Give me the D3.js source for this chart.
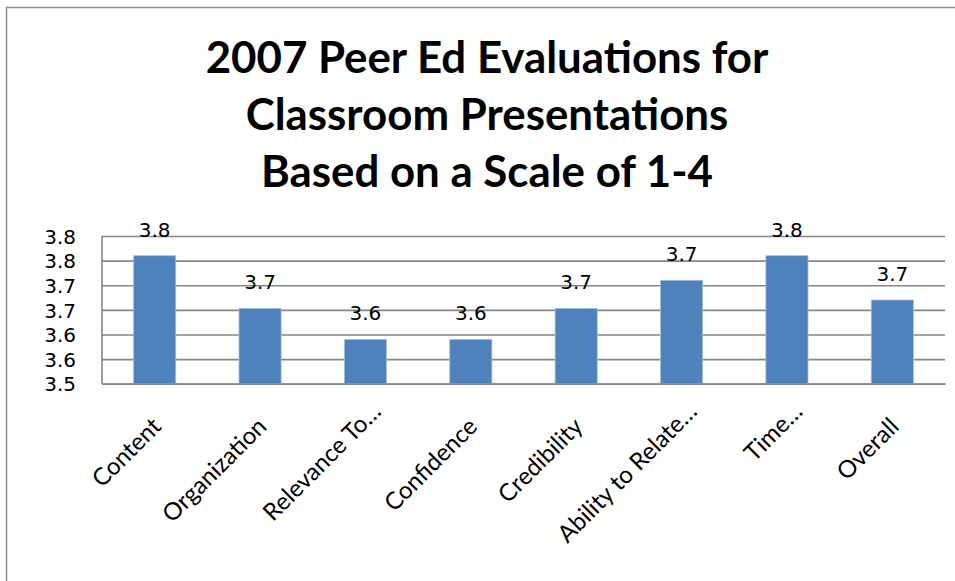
<!DOCTYPE html>
<html>
<head>
<meta charset="utf-8">
<script src="https://cdn.jsdelivr.net/npm/d3@7"></script>
<style>
  html, body { margin: 0; padding: 0; background: #fff; }
  svg { display: block; }
</style>
</head>
<body>
<svg id="chart" width="955" height="581"></svg>
<script>
const titleLines = ["2007 Peer Ed Evaluations for", "Classroom Presentations", "Based on a Scale of 1-4"];
const categories = ["Content", "Organization", "Relevance To…", "Confidence", "Credibility", "Ability to Relate…", "Time…", "Overall"];
const values = [3.76, 3.653, 3.59, 3.59, 3.653, 3.71, 3.76, 3.67];
const tickValues = [3.50, 3.55, 3.60, 3.65, 3.70, 3.75, 3.80];
const tickLabels = ["3.5", "3.6", "3.6", "3.7", "3.7", "3.8", "3.8"];

const svg = d3.select("#chart");
const W = 955, H = 581;
const plot = { left: 102, right: 945, top: 236, bottom: 383.7 };
const grey = "#868686";

// outer frame
svg.append("rect")
  .attr("x", 6.5).attr("y", 7.5)
  .attr("width", W + 20).attr("height", H + 20)
  .attr("fill", "#fff").attr("stroke", "#8c8c8c").attr("stroke-width", 1.5);

// title
const titleFont = "Lato, 'Open Sans', sans-serif";
const title = svg.append("g");
const baselines = [73, 130, 187];
const tLines = title.selectAll("text").data(titleLines).join("text")
  .attr("x", 487).attr("y", (d, i) => baselines[i])
  .attr("text-anchor", "middle")
  .attr("font-family", titleFont).attr("font-weight", 700)
  .attr("font-size", 40).attr("fill", "#000")
  .text(d => d);
const w0 = tLines.nodes()[0].getComputedTextLength();
tLines.attr("font-size", 40 * 563 / w0);

const x = d3.scaleBand().domain(categories).range([plot.left, plot.right])
  .paddingInner(0.6).paddingOuter(0.3);
const y = d3.scaleLinear().domain([3.5, 3.8]).range([plot.bottom, plot.top]);

// gridlines
const yGrid = d3.axisLeft(y).tickValues(tickValues).tickSize(-(plot.right - plot.left)).tickFormat("");
const gGrid = svg.append("g").attr("transform", `translate(${plot.left},0)`).call(yGrid);
gGrid.select(".domain").remove();
gGrid.selectAll(".tick line").attr("stroke", grey).attr("stroke-width", 1.6);

const numFont = "'DejaVu Sans', Verdana, sans-serif";

// y axis labels
const yAxis = d3.axisLeft(y).tickValues(tickValues).tickSize(0).tickPadding(0)
  .tickFormat((d, i) => tickLabels[i]);
const gY = svg.append("g").attr("transform", `translate(76,0)`).call(yAxis);
gY.select(".domain").remove();
gY.selectAll(".tick text")
  .attr("font-family", numFont)
  .attr("font-size", 20).attr("fill", "#000").attr("dy", "0.36em");

// left axis line
svg.append("line").attr("x1", plot.left).attr("x2", plot.left)
  .attr("y1", plot.top).attr("y2", plot.bottom)
  .attr("stroke", grey).attr("stroke-width", 1.6);

// bars
svg.append("g").selectAll("rect").data(values).join("rect")
  .attr("x", (d, i) => x(categories[i]))
  .attr("y", d => y(d))
  .attr("width", x.bandwidth())
  .attr("height", d => y(3.5) - y(d))
  .attr("fill", "#4F81BD")
  .attr("stroke", "#a7c0de").attr("stroke-width", 0.8);

// bottom axis line
const xAxis = d3.axisBottom(x).tickSize(0).tickFormat("");
const gX = svg.append("g").attr("transform", `translate(0,${plot.bottom})`).call(xAxis);
gX.select(".domain").attr("stroke", grey).attr("stroke-width", 1.8);

// data labels
svg.append("g").selectAll("text").data(values).join("text")
  .attr("x", (d, i) => x(categories[i]) + x.bandwidth() / 2)
  .attr("y", d => y(d) - 19)
  .attr("text-anchor", "middle")
  .attr("font-family", numFont)
  .attr("font-size", 20).attr("fill", "#000")
  .text(d => d3.format(".1f")(d));

// category labels
svg.append("g").selectAll("text").data(categories).join("text")
  .attr("transform", d => {
    const cx = x(d) + x.bandwidth() / 2;
    const trunc = d.endsWith("…");
    return `translate(${cx + (trunc ? 17 : 8)},${trunc ? 413 : 428}) rotate(-45)`;
  })
  .attr("text-anchor", "end")
  .attr("font-family", "Lato, 'Open Sans', sans-serif")
  .attr("font-size", 24).attr("fill", "#000")
  .text(d => d);
</script>
</body>
</html>
